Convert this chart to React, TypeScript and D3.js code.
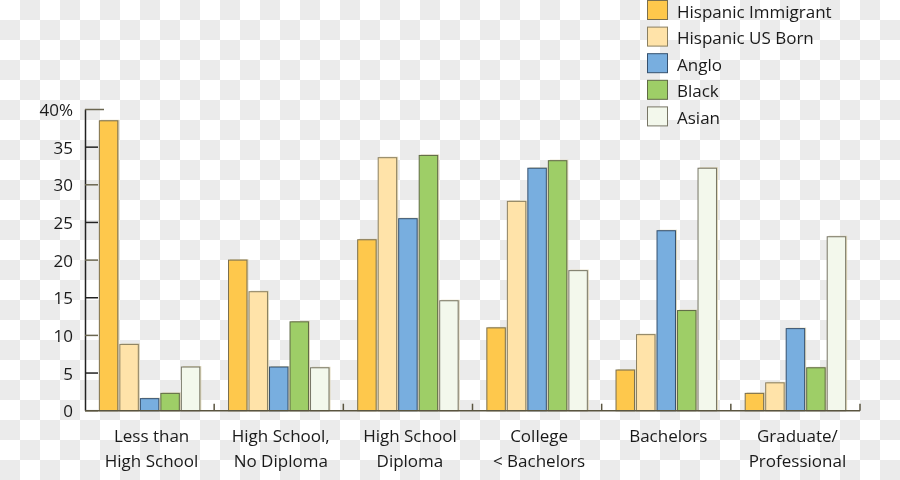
import React from "react";
import * as d3 from "d3";

const categories = [
  ["Less than", "High School"],
  ["High School,", "No Diploma"],
  ["High School", "Diploma"],
  ["College", "< Bachelors"],
  ["Bachelors"],
  ["Graduate/", "Professional"],
];
const seriesNames = ["Hispanic Immigrant", "Hispanic US Born", "Anglo", "Black", "Asian"];
const hispanicImmigrant = [38.5, 20.0, 22.7, 11.0, 5.4, 2.3];
const hispanicUSBorn = [8.8, 15.8, 33.6, 27.8, 10.1, 3.7];
const anglo = [1.6, 5.8, 25.5, 32.2, 23.9, 10.9];
const black = [2.3, 11.8, 33.9, 33.2, 13.3, 5.7];
const asian = [5.8, 5.7, 14.6, 18.6, 32.2, 23.1];
const yTicks = [0, 5, 10, 15, 20, 25, 30, 35, 40];

const seriesValues = [hispanicImmigrant, hispanicUSBorn, anglo, black, asian];
const fills = ["#FEC84C", "#FFE3A9", "#78AEDF", "#9ECE67", "#F3F8EC"];
const strokes = ["#7a6f4e", "#8a7f60", "#35506e", "#5f6a45", "#777565"];

const W = 900;
const H = 480;
const FONT = "'Open Sans', sans-serif";
const FS = 17;

export default function App() {
  const x0 = d3.scaleBand<number>().domain(d3.range(categories.length)).range([85, 860]).padding(0);
  const x1 = d3
    .scaleBand<number>()
    .domain(d3.range(seriesNames.length))
    .range([0, x0.bandwidth()])
    .paddingInner(0.1)
    .paddingOuter(0.7);
  const y = d3.scaleLinear().domain([0, 40]).range([410.7, 109.5]);

  const boundaries = d3.range(categories.length + 1).map((i) =>
    i < categories.length ? (x0(i) as number) : (x0(categories.length - 1) as number) + x0.bandwidth()
  );

  return (
    <svg
      width={W}
      height={H}
      style={{ position: "fixed", left: 0, top: 0, display: "block" }}
      fontFamily={FONT}
    >
      <defs>
        <pattern id="chk" width={40} height={40} patternUnits="userSpaceOnUse">
          <rect width={40} height={40} fill="#ffffff" />
          <rect x={20} y={0} width={20} height={20} fill="#ebebeb" />
          <rect x={0} y={20} width={20} height={20} fill="#ebebeb" />
        </pattern>
      </defs>
      <rect width={W} height={H} fill="url(#chk)" />

      {/* bars */}
      {categories.map((_, ci) => (
        <g key={ci} transform={`translate(${x0(ci)},0)`}>
          {seriesValues.map((vals, si) => {
            const bx = x1(si) as number;
            const by = y(vals[ci]);
            const bh = y(0) - by;
            return (
              <g key={si}>
                <rect x={bx + 1.5} y={by - 1} width={x1.bandwidth()} height={bh + 1} fill="#d9d0ac" opacity={0.8} />
                <rect
                  x={bx}
                  y={by}
                  width={x1.bandwidth()}
                  height={bh}
                  fill={fills[si]}
                  stroke={strokes[si]}
                  strokeWidth={1}
                />
              </g>
            );
          })}
        </g>
      ))}

      {/* y axis */}
      <line x1={85.5} x2={85.5} y1={y(40)} y2={y(0)} stroke="#222" strokeWidth={1.5} />
      {yTicks.map((t) => (
        <g key={t}>
          <line
            x1={85}
            x2={t === 40 ? 104 : 98}
            y1={y(t)}
            y2={y(t)}
            stroke={t % 10 === 0 ? "#6b6650" : "#222"}
            strokeWidth={1.5}
          />
          <text x={73} y={y(t) + 2} textAnchor="end" dominantBaseline="middle" fontSize={FS} fill="#1a1a1a">
            {t === 40 ? "40%" : t}
          </text>
        </g>
      ))}

      {/* x axis */}
      <line x1={85} x2={860} y1={y(0)} y2={y(0)} stroke="#5a5540" strokeWidth={1.5} />
      {boundaries.slice(1).map((bx, i) => (
        <line key={i} x1={bx} x2={bx} y1={y(0)} y2={y(0) - 7} stroke="#5a5540" strokeWidth={1.5} />
      ))}
      {categories.map((lines, ci) => (
        <text
          key={ci}
          x={(x0(ci) as number) + x0.bandwidth() / 2 + 2}
          y={441.5}
          textAnchor="middle"
          fontSize={FS}
          fill="#1a1a1a"
        >
          {lines.map((l, li) => (
            <tspan key={li} x={(x0(ci) as number) + x0.bandwidth() / 2 + 2} dy={li === 0 ? 0 : 25}>
              {l}
            </tspan>
          ))}
        </text>
      ))}

      {/* legend */}
      {seriesNames.map((name, si) => (
        <g key={si} transform={`translate(647.5,${si * 26.6 + 0.5})`}>
          <rect width={20} height={19} fill={fills[si]} stroke={strokes[si]} strokeWidth={1} />
          <text x={29.5} y={17} fontSize={FS} fill="#1a1a1a">
            {name}
          </text>
        </g>
      ))}
    </svg>
  );
}
